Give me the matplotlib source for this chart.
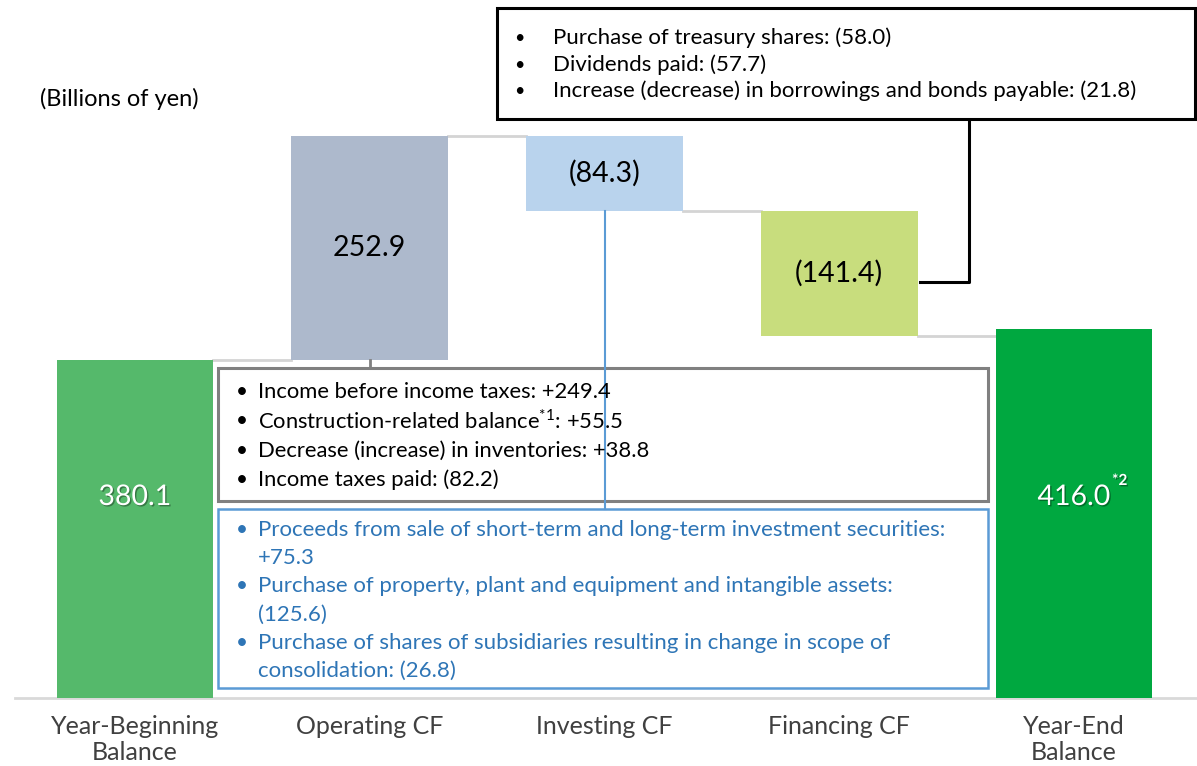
import numpy as np
import matplotlib.pyplot as plt
import matplotlib.patheffects as pe
from matplotlib.patches import Rectangle

plt.rcParams['font.family'] = ['Lato', 'DejaVu Sans']
plt.rcParams['mathtext.fontset'] = 'custom'
plt.rcParams['mathtext.rm'] = 'Lato'
plt.rcParams['mathtext.bf'] = 'Lato:bold'

# data
categories = ['Year-Beginning\nBalance', 'Operating CF', 'Investing CF', 'Financing CF', 'Year-End\nBalance']
values = [380.1, 252.9, -84.3, -141.4, 416.0]
is_total = [True, False, False, False, True]
value_labels = ['380.1', '252.9', '(84.3)', '(141.4)', '416.0']
colors = ['#55b96b', '#adb9cc', '#b9d3ed', '#c8dd7d', '#00a840']

op_items = ['Income before income taxes: +249.4',
            'Construction-related balance$^{*1}$: +55.5',
            'Decrease (increase) in inventories: +38.8',
            'Income taxes paid: (82.2)']
inv_items = [['Proceeds from sale of short-term and long-term investment securities:', '+75.3'],
             ['Purchase of property, plant and equipment and intangible assets:', '(125.6)'],
             ['Purchase of shares of subsidiaries resulting in change in scope of', 'consolidation: (26.8)']]
fin_items = ['Purchase of treasury shares: (58.0)',
             'Dividends paid: (57.7)',
             'Increase (decrease) in borrowings and bonds payable: (21.8)']

W, H = 1197, 766
x0, step = 135, 234.75      # pixel centre of first bar, spacing
base, scale = 698, 0.888    # pixel of zero line, px per unit
width = 0.668

fig = plt.figure(figsize=(W / 100, H / 100), dpi=100)
ax = fig.add_axes([0, 0, 1, 1])
ax.set_xlim(-x0 / step, (W - x0) / step)
ax.set_ylim(-(H - base) / scale, base / scale)
ax.axis('off')

def X(px):
    return (px - x0) / step

def Y(py):
    return (base - py) / scale

# waterfall geometry
bottoms, tops = [], []
running = 0.0
for v, tot in zip(values, is_total):
    if tot:
        b, t = 0.0, v
        running = v
    else:
        b, t = min(running, running + v), max(running, running + v)
        running += v
    bottoms.append(b)
    tops.append(t)
ends = np.cumsum([0] + values[1:4]) + values[0]

xs = np.arange(len(categories))
ax.bar(xs, np.array(tops) - np.array(bottoms), bottom=bottoms, width=width,
       color=colors, zorder=2)

# connectors between bars
for i in range(len(xs) - 1):
    ax.plot([i + width / 2, i + 1 - width / 2], [ends[i], ends[i]],
            color='#d4d4d4', lw=2, zorder=1)

# base line
ax.plot([X(15), X(W)], [0, 0], color='#d9d9d9', lw=2, zorder=1)

# category labels
for i, c in enumerate(categories):
    ax.text(i, Y(715), c, ha='center', va='top', fontsize=18,
            color='#404040', linespacing=1.15)

# value labels
shadow = [pe.withSimplePatchShadow(offset=(1, -1), shadow_rgbFace='black', alpha=0.35)]
for i, lab in enumerate(value_labels):
    if is_total[i]:
        ax.text(i, Y(497), lab, ha='center', va='center', fontsize=20.5,
                color='white', path_effects=shadow, zorder=4)
    else:
        ax.text(i, (bottoms[i] + tops[i]) / 2, lab, ha='center', va='center',
                fontsize=20.5, color='black', zorder=4)
ax.text(X(1112), Y(481), '*2', ha='left', va='center', fontsize=11,
        color='white', fontweight='bold', path_effects=shadow, zorder=4)

ax.text(X(40), Y(99), '(Billions of yen)', ha='left', va='center', fontsize=17)

# annotation boxes
def box(x1, y1, x2, y2, ec, lw):
    ax.add_patch(Rectangle((X(x1), Y(y2)), X(x2) - X(x1), Y(y1) - Y(y2),
                           fill=True, fc='white', ec=ec, lw=lw, zorder=3))

box(218, 368, 988, 501, '#808080', 2.2)
box(218, 509, 988, 688, '#5b9bd5', 1.8)
box(497, 8, 1195, 119, 'black', 2.2)

# leader lines
ax.plot([1, 1], [bottoms[1], Y(368)], color='#808080', lw=2, zorder=2)
ax.plot([2, 2], [bottoms[2], Y(509)], color='#5b9bd5', lw=1.5, zorder=3.5)
ax.plot([X(969), X(969), 3 + width / 2 + 0.01], [Y(119), Y(282), Y(282)],
        color='black', lw=2.2, zorder=2)

# box texts
for k, t in enumerate(op_items):
    y = Y(392 + 29.3 * k)
    ax.text(X(236), y, '•', ha='left', va='center', fontsize=15, zorder=4)
    ax.text(X(258), y, t, ha='left', va='center', fontsize=15.8, zorder=4)

row = 0
for item in inv_items:
    for j, line in enumerate(item):
        y = Y(530 + 28.2 * row)
        if j == 0:
            ax.text(X(236), y, '•', ha='left', va='center', fontsize=15,
                    color='#2e75b6', zorder=4)
        ax.text(X(258), y, line, ha='left', va='center', fontsize=16,
                color='#2e75b6', zorder=4)
        row += 1

for k, t in enumerate(fin_items):
    y = Y(38 + 26.5 * k)
    ax.text(X(514), y, '•', ha='left', va='center', fontsize=13, zorder=4)
    ax.text(X(553), y, t, ha='left', va='center', fontsize=16, zorder=4)

fig.savefig('out.png', dpi=100)
